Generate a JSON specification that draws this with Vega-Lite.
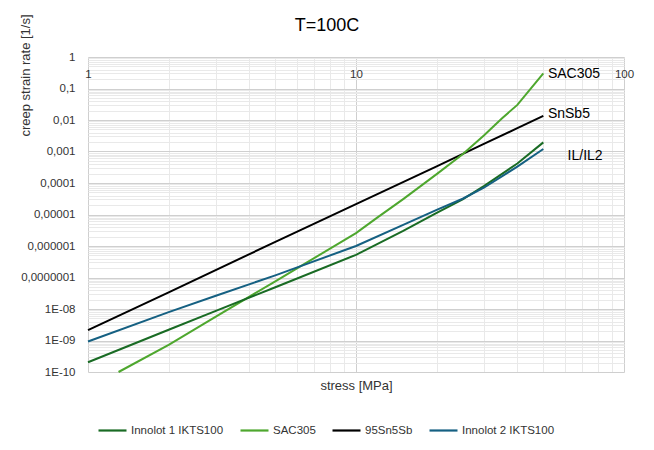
{
  "$schema": "https://vega.github.io/schema/vega-lite/v6.json",
  "width": 536,
  "height": 315,
  "autosize": {"type": "none"},
  "padding": {"left": 88, "top": 57, "right": 30, "bottom": 78},
  "background": "white",
  "title": {
    "text": "T=100C",
    "fontSize": 18,
    "fontWeight": "normal",
    "color": "#000000",
    "anchor": "middle",
    "frame": "group",
    "baseline": "middle",
    "dx": -29,
    "offset": -30
  },
  "datasets": {
    "curves": [
      {"alloy": "95Sn5Sb", "stress": 1, "rate": 2.14e-9},
      {"alloy": "95Sn5Sb", "stress": 2, "rate": 3.39e-8},
      {"alloy": "95Sn5Sb", "stress": 5, "rate": 1.35e-6},
      {"alloy": "95Sn5Sb", "stress": 10, "rate": 2.14e-5},
      {"alloy": "95Sn5Sb", "stress": 20, "rate": 3.39e-4},
      {"alloy": "95Sn5Sb", "stress": 30, "rate": 1.74e-3},
      {"alloy": "95Sn5Sb", "stress": 40, "rate": 5.5e-3},
      {"alloy": "95Sn5Sb", "stress": 50, "rate": 1.35e-2},
      {"alloy": "SAC305", "stress": 1.3, "rate": 1.0e-10},
      {"alloy": "SAC305", "stress": 2, "rate": 7.24e-10},
      {"alloy": "SAC305", "stress": 3, "rate": 5.75e-9},
      {"alloy": "SAC305", "stress": 5, "rate": 7.59e-8},
      {"alloy": "SAC305", "stress": 6, "rate": 1.91e-7},
      {"alloy": "SAC305", "stress": 10, "rate": 2.57e-6},
      {"alloy": "SAC305", "stress": 12, "rate": 7.94e-6},
      {"alloy": "SAC305", "stress": 15, "rate": 3.09e-5},
      {"alloy": "SAC305", "stress": 20, "rate": 1.91e-4},
      {"alloy": "SAC305", "stress": 25, "rate": 8.13e-4},
      {"alloy": "SAC305", "stress": 30, "rate": 3.24e-3},
      {"alloy": "SAC305", "stress": 35, "rate": 1.12e-2},
      {"alloy": "SAC305", "stress": 40, "rate": 3.02e-2},
      {"alloy": "SAC305", "stress": 50, "rate": 0.302},
      {"alloy": "Innolot 1 IKTS100", "stress": 1, "rate": 2.04e-10},
      {"alloy": "Innolot 1 IKTS100", "stress": 2, "rate": 2.19e-9},
      {"alloy": "Innolot 1 IKTS100", "stress": 3, "rate": 8.71e-9},
      {"alloy": "Innolot 1 IKTS100", "stress": 5, "rate": 4.9e-8},
      {"alloy": "Innolot 1 IKTS100", "stress": 10, "rate": 5.25e-7},
      {"alloy": "Innolot 1 IKTS100", "stress": 15, "rate": 3.02e-6},
      {"alloy": "Innolot 1 IKTS100", "stress": 20, "rate": 1.12e-5},
      {"alloy": "Innolot 1 IKTS100", "stress": 25, "rate": 3.02e-5},
      {"alloy": "Innolot 1 IKTS100", "stress": 30, "rate": 7.94e-5},
      {"alloy": "Innolot 1 IKTS100", "stress": 40, "rate": 4.17e-4},
      {"alloy": "Innolot 1 IKTS100", "stress": 50, "rate": 1.95e-3},
      {"alloy": "Innolot 2 IKTS100", "stress": 1, "rate": 9.33e-10},
      {"alloy": "Innolot 2 IKTS100", "stress": 2, "rate": 7.94e-9},
      {"alloy": "Innolot 2 IKTS100", "stress": 3, "rate": 2.63e-8},
      {"alloy": "Innolot 2 IKTS100", "stress": 5, "rate": 1.17e-7},
      {"alloy": "Innolot 2 IKTS100", "stress": 10, "rate": 1.0e-6},
      {"alloy": "Innolot 2 IKTS100", "stress": 15, "rate": 4.68e-6},
      {"alloy": "Innolot 2 IKTS100", "stress": 20, "rate": 1.41e-5},
      {"alloy": "Innolot 2 IKTS100", "stress": 25, "rate": 3.16e-5},
      {"alloy": "Innolot 2 IKTS100", "stress": 30, "rate": 7.08e-5},
      {"alloy": "Innolot 2 IKTS100", "stress": 40, "rate": 3.31e-4},
      {"alloy": "Innolot 2 IKTS100", "stress": 50, "rate": 1.20e-3}
    ],
    "labels": [
      {"label": "SAC305", "stress": 52, "rate": 0.29},
      {"label": "SnSb5", "stress": 52, "rate": 0.0152},
      {"label": "IL/IL2", "stress": 61.6, "rate": 7.4e-4}
    ]
  },
  "layer": [
    {
      "data": {"name": "labels"},
      "mark": {"type": "text", "align": "left", "baseline": "middle", "fontSize": 14, "color": "#000000"},
      "encoding": {
        "x": {
          "field": "stress",
          "type": "quantitative",
          "scale": {"type": "log", "domain": [1, 100], "nice": false},
          "axis": {
            "orient": "bottom",
            "values": [2, 3, 4, 5, 6, 7, 8, 9, 20, 30, 40, 50, 60, 70, 80, 90],
            "grid": true,
            "gridColor": "#e9e9e9",
            "labels": false,
            "ticks": false,
            "domain": false,
            "title": null
          }
        },
        "y": {
          "field": "rate",
          "type": "quantitative",
          "scale": {"type": "log", "domain": [1e-10, 1], "nice": false},
          "axis": {
            "orient": "right",
            "values": [
              2e-10, 3e-10, 4e-10, 5e-10, 6e-10, 7e-10, 8e-10, 9e-10,
              2e-9, 3e-9, 4e-9, 5e-9, 6e-9, 7e-9, 8e-9, 9e-9,
              2e-8, 3e-8, 4e-8, 5e-8, 6e-8, 7e-8, 8e-8, 9e-8,
              2e-7, 3e-7, 4e-7, 5e-7, 6e-7, 7e-7, 8e-7, 9e-7,
              2e-6, 3e-6, 4e-6, 5e-6, 6e-6, 7e-6, 8e-6, 9e-6,
              2e-5, 3e-5, 4e-5, 5e-5, 6e-5, 7e-5, 8e-5, 9e-5,
              2e-4, 3e-4, 4e-4, 5e-4, 6e-4, 7e-4, 8e-4, 9e-4,
              2e-3, 3e-3, 4e-3, 5e-3, 6e-3, 7e-3, 8e-3, 9e-3,
              2e-2, 3e-2, 4e-2, 5e-2, 6e-2, 7e-2, 8e-2, 9e-2,
              0.2, 0.3, 0.4, 0.5, 0.6, 0.7, 0.8, 0.9
            ],
            "grid": true,
            "gridColor": "#e9e9e9",
            "labels": false,
            "ticks": false,
            "domain": false,
            "title": null
          }
        },
        "text": {"field": "label", "type": "nominal"}
      }
    },
    {
      "data": {"name": "curves"},
      "mark": {"type": "line", "strokeWidth": 2},
      "encoding": {
        "x": {
          "field": "stress",
          "type": "quantitative",
          "scale": {"type": "log", "domain": [1, 100], "nice": false},
          "axis": {
            "orient": "top",
            "values": [1, 10, 100],
            "format": "d",
            "grid": true,
            "gridColor": "#cfcfcf",
            "domain": false,
            "ticks": false,
            "tickSize": 0,
            "labelFlush": false,
            "labelPadding": -17,
            "labelBaseline": "middle",
            "labelFontSize": 11.5,
            "labelColor": "#333333",
            "title": "stress [MPa]",
            "titleFontSize": 13,
            "titleFontWeight": "normal",
            "titleColor": "#333333",
            "titleX": 268,
            "titleY": 328,
            "titleAlign": "center",
            "titleBaseline": "middle"
          }
        },
        "y": {
          "field": "rate",
          "type": "quantitative",
          "scale": {"type": "log", "domain": [1e-10, 1], "nice": false},
          "axis": {
            "orient": "left",
            "values": [1, 0.1, 0.01, 0.001, 0.0001, 0.00001, 0.000001, 0.0000001, 1e-8, 1e-9, 1e-10],
            "labelExpr": "datum.value >= 1e-7 ? replace(format(datum.value, '.7~f'), '.', ',') : '1E-' + format(round(-log(datum.value) / LN10), '02d')",
            "grid": true,
            "gridColor": "#cfcfcf",
            "domain": false,
            "ticks": false,
            "tickSize": 0,
            "labelPadding": 13,
            "labelFontSize": 11.5,
            "labelColor": "#333333",
            "title": "creep strain rate [1/s]",
            "titleFontSize": 13,
            "titleFontWeight": "normal",
            "titleColor": "#333333",
            "titleAngle": 270,
            "titleX": -63,
            "titleY": 18,
            "titleAlign": "center",
            "titleBaseline": "middle"
          }
        },
        "color": {
          "field": "alloy",
          "type": "nominal",
          "scale": {
            "domain": ["Innolot 1 IKTS100", "SAC305", "95Sn5Sb", "Innolot 2 IKTS100"],
            "range": ["#196B24", "#4EA72E", "#000000", "#156082"]
          },
          "legend": {
            "orient": "none",
            "legendX": 9,
            "legendY": 358,
            "direction": "horizontal",
            "title": null,
            "symbolType": "stroke",
            "symbolSize": 784,
            "symbolStrokeWidth": 2.2,
            "labelOffset": 3,
            "columnPadding": 12,
            "labelFontSize": 11.5,
            "labelColor": "#333333"
          }
        }
      }
    }
  ],
  "config": {
    "font": "Liberation Sans",
    "view": {"stroke": null}
  }
}
